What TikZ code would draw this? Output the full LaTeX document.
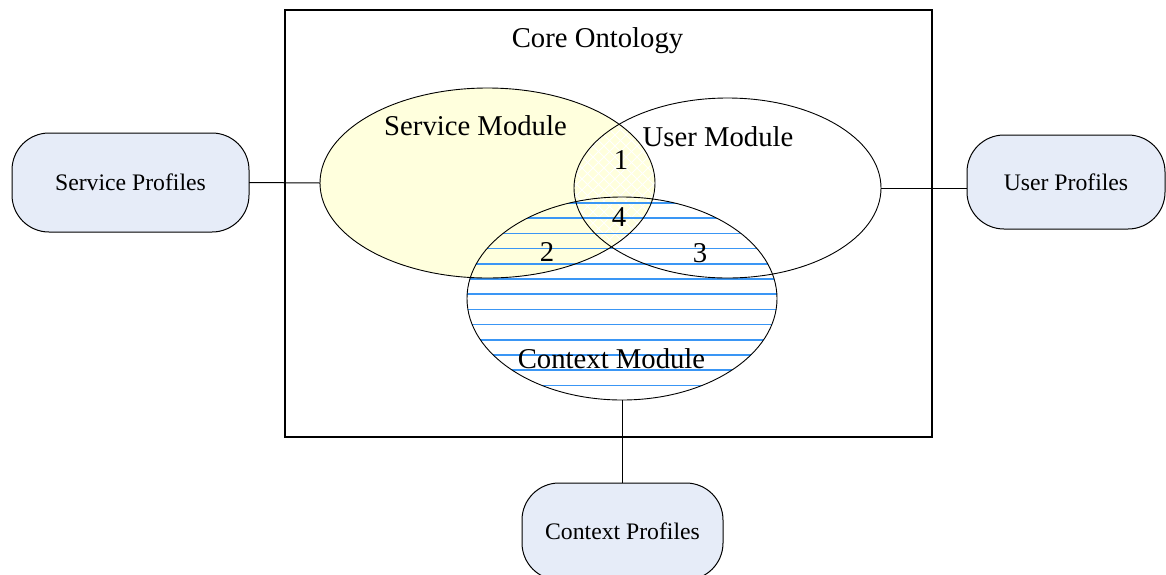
\documentclass[tikz,border=0pt]{standalone}
\usepackage{fontspec}
\setmainfont{Liberation Serif}
\usetikzlibrary{shapes.geometric}
\definecolor{svcfill}{RGB}{255,255,221}
\definecolor{proffill}{RGB}{230,236,248}
\definecolor{hatchblue}{RGB}{58,150,245}
\tikzset{
  bigtext/.style={font=\fontsize{28.7}{30}\selectfont, inner sep=0pt, anchor=base},
  profile/.style={rectangle, draw=black, line width=1pt, fill=proffill,
    rounded corners=37pt, inner sep=0pt, outer sep=0pt,
    font=\fontsize{23.7}{25}\selectfont},
  module/.style={ellipse, draw=black, line width=0.9pt, inner sep=0pt, outer sep=0pt},
  link/.style={draw=black, line width=1pt},
}
\begin{document}
\begin{tikzpicture}[x=1pt,y=-1pt]
\useasboundingbox (0,0) rectangle (1166,574);
\clip (0,0) rectangle (1166,574);

% core ontology frame
\node[draw=black, line width=2pt, minimum width=647pt, minimum height=427pt,
  inner sep=0pt, outer sep=0pt] (core) at (608.5,223.5) {};

% service module fill
\fill[svcfill] (487.5,183) ellipse [x radius=167.5pt, y radius=95pt];

% white cross-hatching where service and user modules overlap
\begin{scope}
  \clip (487.5,183) ellipse [x radius=167.5pt, y radius=95pt];
  \clip (727.5,188) ellipse [x radius=153.5pt, y radius=90pt];
  \foreach \k in {-25,...,25} {
    \draw[white, line width=0.8pt] (615+\k*11,80) -- ++(220,220);
    \draw[white, line width=0.8pt] (615+\k*11,80) -- ++(-220,220);
  }
\end{scope}

% horizontal rules inside the context module
\begin{scope}
  \clip (622,298.5) ellipse [x radius=155pt, y radius=101.5pt];
  \foreach \k in {0,...,12} {
    \draw[hatchblue, line width=1.5pt] (460,203+\k*15.2) -- (790,203+\k*15.2);
  }
\end{scope}

% module outlines
\node[module, minimum width=335pt, minimum height=190pt] (svc) at (487.5,183) {};
\node[module, minimum width=307pt, minimum height=180pt] (usr) at (727.5,188) {};
\node[module, minimum width=310pt, minimum height=203pt] (ctx) at (622,298.5) {};

% profiles
\node[profile, minimum width=237pt, minimum height=99pt] (sp) at (130.5,182.5) {Service Profiles};
\node[profile, minimum width=198pt, minimum height=94pt] (up) at (1066,182) {User Profiles};
\node[profile, minimum width=201pt, minimum height=97pt] (cp) at (622.5,531.5) {Context Profiles};

% connectors
\draw[link] (sp.east) -- (svc.west);
\coordinate (upin) at (usr.east -| up.west);
\draw[link] (usr.east) -- (upin);
\draw[link] (ctx.south) -- (ctx.south |- cp.north);

% labels
\node[bigtext] (lcore) at (597.5,47) {Core Ontology};
\node[bigtext] (lsvc) at (475.5,135) {Service Module};
\node[bigtext] (lusr) at (718,146) {User Module};
\node[bigtext] (lctx) at (611.5,368) {Context Module};
\node[bigtext] (n1) at (621,169) {1};
\node[bigtext] (n4) at (619,226.7) {4};
\node[bigtext] (n2) at (547,261.7) {2};
\node[bigtext] (n3) at (700,262.7) {3};
\end{tikzpicture}
\end{document}
